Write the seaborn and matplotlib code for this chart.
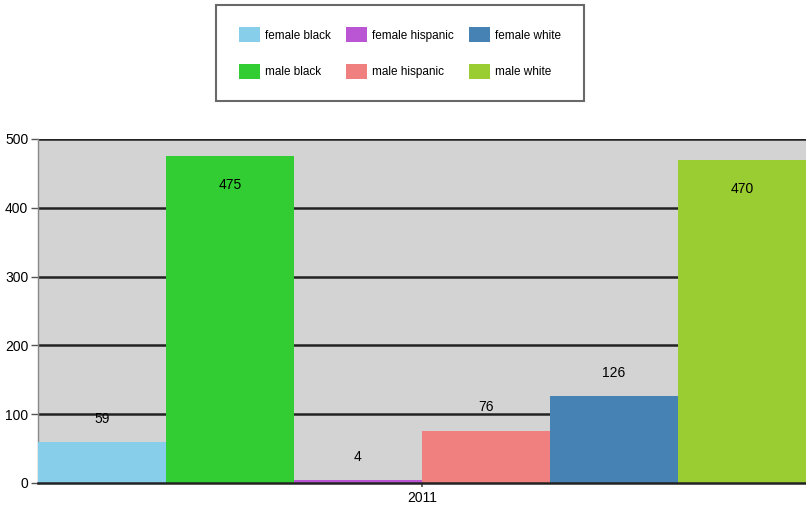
import matplotlib
matplotlib.use('Agg')
import matplotlib.pyplot as plt
import pandas as pd
import seaborn as sns

# data
years = ['2011']
groups = ['female black', 'male black', 'female hispanic', 'male hispanic', 'female white', 'male white']
values = [59, 475, 4, 76, 126, 470]
colors = ['#87CEEB', '#32CD32', '#BA55D3', '#F08080', '#4682B4', '#9ACD32']

df = pd.DataFrame({'year': years * len(groups), 'group': groups, 'value': values})

sns.set_theme(style='white')
plt.rcParams['font.family'] = ['Liberation Sans Narrow', 'Liberation Sans', 'DejaVu Sans']
plt.rcParams['text.color'] = 'black'
plt.rcParams['xtick.color'] = 'black'
plt.rcParams['ytick.color'] = 'black'

fig = plt.figure(figsize=(8.06, 5.24), dpi=100)
ax = fig.add_axes([38 / 806, 41 / 524, 1 - 38 / 806, 344 / 524])
ax.set_facecolor('#d3d3d3')

sns.barplot(data=df, x='year', y='value', hue='group', hue_order=groups,
            palette=colors, width=1.0, gap=0, saturation=1, linewidth=0,
            ax=ax, zorder=3)

ax.set_xlim(-0.5, 0.5)
ax.set_ylim(0, 500)
ax.set_yticks(range(0, 501, 100))
ax.yaxis.grid(True, color='#222222', linewidth=1.8, zorder=0)
ax.set_axisbelow(True)
ax.set_xlabel('')
ax.set_ylabel('')
ax.tick_params(axis='y', left=True, length=5, width=1, color='#555555', labelsize=10, pad=2)
ax.tick_params(axis='x', bottom=True, length=3, color='#555555', labelsize=10, pad=3)
for side in ['top', 'right']:
    ax.spines[side].set_visible(False)
ax.spines['left'].set_color('#888888')
ax.spines['left'].set_linewidth(1)
ax.spines['bottom'].set_color('#222222')
ax.spines['bottom'].set_linewidth(1.8)
ax.spines['bottom'].set_zorder(5)

# value labels: above short bars, inside tall ones
for p, v in zip(ax.patches, values):
    x = p.get_x() + p.get_width() / 2
    if v > 400:
        ax.annotate(str(v), (x, v), xytext=(0, -21), textcoords='offset points',
                    ha='center', va='center', fontsize=10, zorder=6)
    else:
        ax.annotate(str(v), (x, v), xytext=(0, 17), textcoords='offset points',
                    ha='center', va='center', fontsize=10, zorder=6)

handles, labels = ax.get_legend_handles_labels()
ax.get_legend().remove()
leg = fig.legend(handles, labels, ncol=3, loc='center', bbox_to_anchor=(400 / 806, 1 - 53 / 524),
                 frameon=True, fancybox=False, edgecolor='#444444', fontsize=8.5,
                 handlelength=1.8, handleheight=1.6, columnspacing=1.3, labelspacing=1.8,
                 borderpad=1.9, handletextpad=0.4)
leg.get_frame().set_linewidth(1.5)

fig.savefig('out.png', dpi=100)
